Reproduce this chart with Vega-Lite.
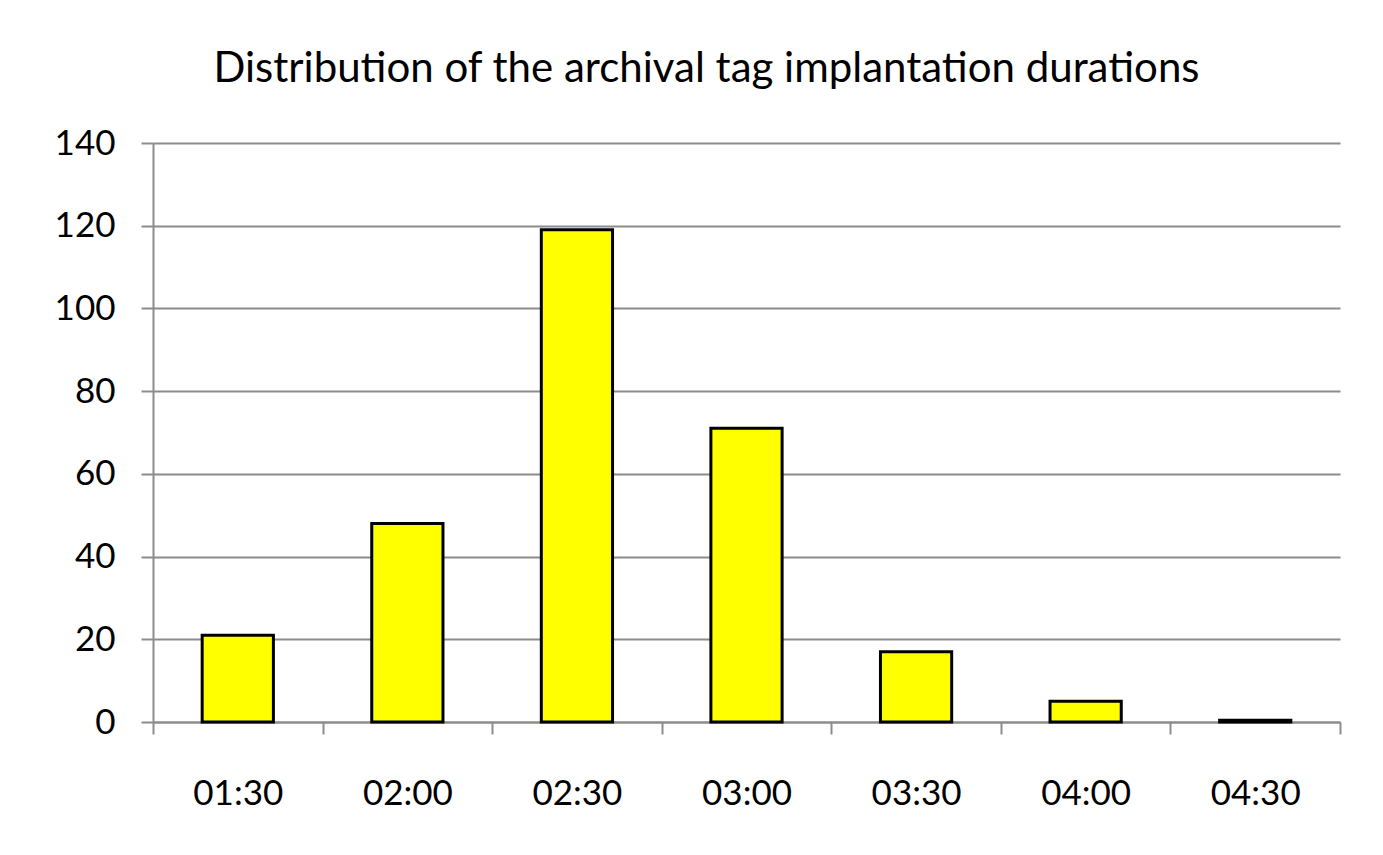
{
  "$schema": "https://vega.github.io/schema/vega-lite/v6.json",
  "width": 1187,
  "height": 579,
  "autosize": {"type": "none"},
  "padding": {"left": 153, "top": 143, "right": 43, "bottom": 133},
  "background": "white",
  "title": {
    "text": "Distribution of the archival tag implantation durations",
    "font": "Lato",
    "fontSize": 42,
    "fontWeight": "normal",
    "color": "black",
    "anchor": "middle",
    "frame": "group",
    "dx": -40,
    "offset": 35
  },
  "data": {
    "values": [
      {"duration": "01:30", "count": 21},
      {"duration": "02:00", "count": 48},
      {"duration": "02:30", "count": 119},
      {"duration": "03:00", "count": 71},
      {"duration": "03:30", "count": 17},
      {"duration": "04:00", "count": 5},
      {"duration": "04:30", "count": 0.4}
    ]
  },
  "mark": {"type": "bar", "fill": "#FFFF00", "stroke": "black", "strokeWidth": 3, "width": {"band": 0.42}},
  "encoding": {
    "x": {
      "field": "duration",
      "type": "ordinal",
      "sort": null,
      "scale": {"paddingInner": 0, "paddingOuter": 0},
      "axis": {
        "title": null,
        "labelAngle": 0,
        "labelFont": "Lato",
        "labelFontSize": 35,
        "labelColor": "black",
        "labelPadding": 42,
        "domainColor": "#8c8c8c",
        "domainWidth": 2,
        "tickColor": "#8c8c8c",
        "tickWidth": 2,
        "tickSize": 12,
        "tickBand": "extent",
        "grid": false
      }
    },
    "y": {
      "field": "count",
      "type": "quantitative",
      "scale": {"domain": [0, 140], "nice": false},
      "axis": {
        "title": null,
        "values": [0, 20, 40, 60, 80, 100, 120, 140],
        "labelFont": "Lato",
        "labelFontSize": 35,
        "labelColor": "black",
        "labelPadding": 26,
        "domainColor": "#8c8c8c",
        "domainWidth": 2,
        "tickColor": "#8c8c8c",
        "tickWidth": 2,
        "tickSize": 12,
        "grid": true,
        "gridColor": "#8c8c8c",
        "gridWidth": 2
      }
    }
  },
  "config": {"view": {"stroke": null}}
}
